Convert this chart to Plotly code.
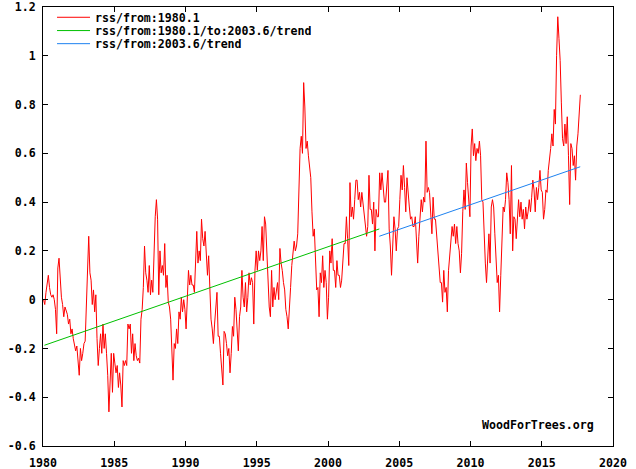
import plotly.graph_objects as go

# RSS monthly anomalies (deg C), Jan 1980 .. Sep 2017
rss_1980s = [
    0.00, -0.02, 0.03, 0.08, 0.10, 0.05, 0.02, 0.01, 0.02, 0.00, -0.04, -0.14,
    0.13, 0.17, 0.06, 0.01, -0.02, -0.07, -0.03, -0.05, -0.06, -0.10, -0.08, -0.14,
    -0.12, -0.16, -0.18, -0.21, -0.19, -0.25, -0.31, -0.20, -0.25, -0.22, -0.18, -0.17,
    0.00, 0.10, 0.26, 0.11, 0.08, -0.02, 0.04, -0.05, 0.02, -0.16, -0.27, -0.20,
    -0.14, -0.22, -0.10, -0.20, -0.14, -0.22, -0.31, -0.46, -0.33, -0.22, -0.38, -0.22,
    -0.26, -0.30, -0.27, -0.36, -0.30, -0.35, -0.44, -0.25, -0.27, -0.25, -0.27, -0.10,
    -0.12, -0.10, -0.22, -0.14, -0.25, -0.18, -0.23, -0.25, -0.24, -0.26, -0.08, -0.04,
    0.05, 0.22, 0.11, 0.08, 0.03, 0.14, 0.02, 0.08, 0.03, 0.22, 0.34, 0.41,
    0.33, 0.02, 0.20, 0.11, 0.14, 0.10, 0.23, 0.05, 0.10, -0.01, -0.03, -0.08,
    -0.23, -0.33, -0.18, -0.20, -0.12, -0.18, -0.05, -0.08, 0.01, -0.05, 0.00, -0.04,
]
rss_1990s = [
    -0.12, -0.01, 0.12, 0.06, 0.10, 0.06, 0.06, 0.03, 0.15, 0.28, 0.15, 0.20,
    0.16, 0.33, 0.25, 0.22, 0.28, 0.21, 0.10, 0.18, 0.05, -0.08, -0.12, -0.18,
    -0.10, -0.03, 0.03, -0.15, -0.15, -0.22, -0.29, -0.35, -0.13, -0.14, -0.18, -0.23,
    -0.20, -0.30, -0.22, -0.11, -0.15, 0.01, -0.04, -0.15, -0.21, -0.07, -0.03, 0.12,
    0.01, -0.03, 0.07, -0.05, 0.01, 0.11, 0.06, 0.09, 0.07, -0.10, 0.12, 0.20,
    0.12, 0.20, 0.16, 0.20, 0.30, 0.16, 0.34, 0.31, 0.20, 0.07, -0.03, -0.07,
    0.12, -0.03, 0.05, 0.00, 0.05, 0.07, 0.00, 0.21, 0.15, 0.12, 0.07, 0.04,
    -0.04, -0.07, -0.12, 0.00, 0.05, 0.14, 0.20, 0.24, 0.20, 0.22, 0.27, 0.48,
    0.62, 0.67, 0.60, 0.89, 0.79, 0.62, 0.65, 0.59, 0.55, 0.50, 0.36, 0.26,
    0.29, 0.12, 0.04, 0.05, -0.07, 0.11, 0.07, 0.18, 0.05, 0.12, 0.07, -0.08,
]
rss_2000s = [
    0.01, 0.20, 0.15, 0.25, 0.12, 0.12, 0.05, 0.16, 0.10, 0.10, 0.05, 0.08,
    0.16, 0.23, 0.23, 0.34, 0.25, 0.14, 0.48, 0.34, 0.38, 0.33, 0.41, 0.49,
    0.49, 0.41, 0.44, 0.38, 0.44, 0.40, 0.36, 0.30, 0.26, 0.30, 0.51, 0.37,
    0.37, 0.31, 0.40, 0.20, 0.37, 0.34, 0.34, 0.52, 0.45, 0.52, 0.45, 0.40,
    0.40, 0.46, 0.53, 0.29, 0.22, 0.10, 0.25, 0.34, 0.29, 0.20, 0.29, 0.30,
    0.41, 0.51, 0.45, 0.55, 0.46, 0.36, 0.50, 0.42, 0.38, 0.33, 0.34, 0.30,
    0.30, 0.34, 0.26, 0.15, 0.26, 0.33, 0.41, 0.36, 0.42, 0.40, 0.65, 0.44,
    0.46, 0.44, 0.37, 0.27, 0.42, 0.33, 0.33, 0.27, 0.18, 0.15, 0.07, 0.07,
    -0.01, 0.12, 0.03, 0.05, -0.05, 0.12, 0.18, 0.22, 0.30, 0.26, 0.31, 0.23,
    0.30, 0.23, 0.20, 0.11, 0.19, 0.36, 0.45, 0.37, 0.56, 0.48, 0.42, 0.34,
]
rss_2010s = [
    0.63, 0.70, 0.59, 0.64, 0.57, 0.62, 0.60, 0.65, 0.59, 0.41, 0.40, 0.23,
    0.15, 0.07, 0.15, 0.27, 0.15, 0.38, 0.41, 0.38, 0.27, 0.18, 0.07, 0.10,
    -0.05, 0.10, 0.26, 0.38, 0.36, 0.41, 0.52, 0.48, 0.41, 0.27, 0.55, 0.20,
    0.34, 0.33, 0.25, 0.34, 0.41, 0.34, 0.40, 0.33, 0.37, 0.29, 0.38, 0.33,
    0.36, 0.41, 0.36, 0.42, 0.49, 0.45, 0.36, 0.46, 0.41, 0.46, 0.53, 0.45,
    0.44, 0.33, 0.37, 0.45, 0.44, 0.53, 0.57, 0.62, 0.68, 0.63, 0.78, 0.72,
    1.00, 1.16, 1.07, 0.98, 0.81, 0.66, 0.63, 0.72, 0.64, 0.75, 0.59, 0.39,
    0.64, 0.62, 0.55, 0.59, 0.49, 0.63, 0.68, 0.78, 0.84,
]

rss = rss_1980s + rss_1990s + rss_2000s + rss_2010s
months = [1980 + (i + 0.5) / 12 for i in range(len(rss))]

# trend segments (end points)
trend1_x = [1980.1, 2003.6]
trend1_y = [-0.187, 0.29]
trend2_x = [2003.6, 2017.7]
trend2_y = [0.26, 0.545]

series_names = ["rss/from:1980.1", "rss/from:1980.1/to:2003.6/trend", "rss/from:2003.6/trend"]
series_colors = ["#ff0000", "#00c000", "#1e82f0"]

x_ticks = [1980, 1985, 1990, 1995, 2000, 2005, 2010, 2015, 2020]
y_ticks = [-0.6, -0.4, -0.2, 0, 0.2, 0.4, 0.6, 0.8, 1, 1.2]
y_labels = ["-0.6", "-0.4", "-0.2", "0", "0.2", "0.4", "0.6", "0.8", "1", "1.2"]

FONT = dict(family="DejaVu Sans Mono", size=11.6, color="black", weight="bold")

fig = go.Figure()
fig.add_trace(go.Scatter(x=months, y=rss, mode="lines", name=series_names[0],
                         line=dict(color=series_colors[0], width=1)))
fig.add_trace(go.Scatter(x=trend1_x, y=trend1_y, mode="lines", name=series_names[1],
                         line=dict(color=series_colors[1], width=1)))
fig.add_trace(go.Scatter(x=trend2_x, y=trend2_y, mode="lines", name=series_names[2],
                         line=dict(color=series_colors[2], width=1)))

axis_style = dict(showline=True, linecolor="black", linewidth=1, mirror="allticks",
                  ticks="inside", ticklen=5, tickwidth=1, tickcolor="black",
                  showgrid=False, zeroline=False, tickfont=FONT, automargin=False)

# hand-made legend so the rows sit as tight as in the original
shapes = []
annotations = []
legend_rows = [0.9766, 0.9463, 0.9165]
for name, color, ry in zip(series_names, series_colors, legend_rows):
    shapes.append(dict(type="line", xref="paper", yref="paper", x0=0.0246, x1=0.0825,
                       y0=ry, y1=ry, line=dict(color=color, width=1)))
    annotations.append(dict(text=name, xref="paper", yref="paper", x=0.090, y=ry,
                            xanchor="left", yanchor="middle", showarrow=False, font=FONT,
                            height=13, borderpad=0))

annotations.append(dict(text="WoodForTrees.org", xref="paper", yref="paper", x=0.970, y=0.048,
                        xanchor="right", yanchor="middle", showarrow=False, font=FONT))

fig.update_layout(
    width=636, height=469,
    margin=dict(l=43, r=23, t=7, b=23),
    paper_bgcolor="white", plot_bgcolor="white",
    showlegend=False,
    font=FONT,
    xaxis=dict(range=[1980, 2020], tickvals=x_ticks, ticklabelstandoff=6, **axis_style),
    yaxis=dict(range=[-0.6, 1.2], tickvals=y_ticks, ticktext=y_labels, ticklabelstandoff=4,
               **axis_style),
    shapes=shapes,
    annotations=annotations,
)

# page body has a default 8px margin; drop it so the figure sits at the window corner
fig.write_html("out.html", config={"displayModeBar": False},
               post_script="document.body.style.margin = '0';")
